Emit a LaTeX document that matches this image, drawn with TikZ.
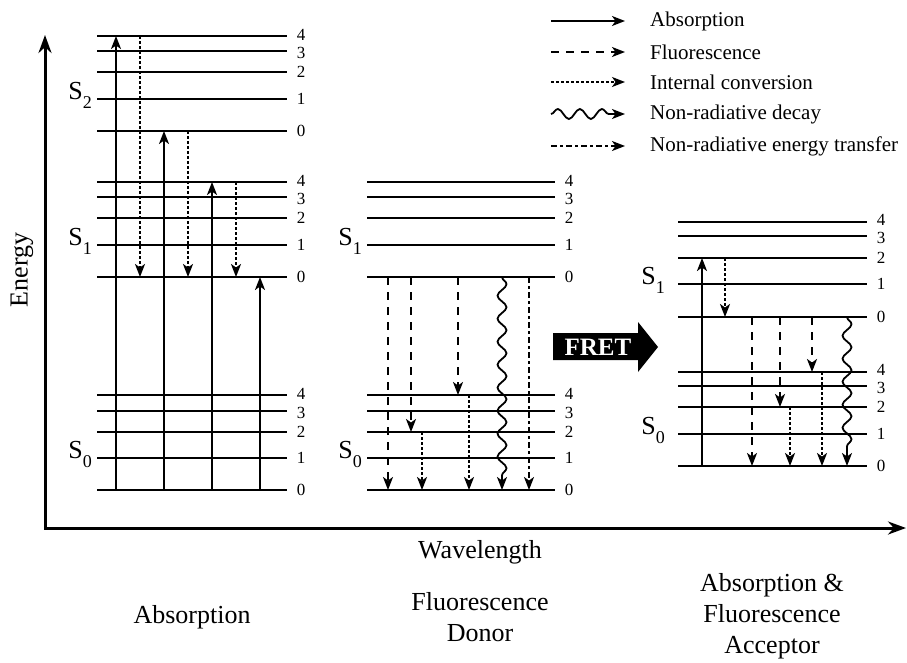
\documentclass[tikz,border=0pt]{standalone}
\usepackage{fontspec}
\setmainfont{Liberation Serif}
\usetikzlibrary{arrows.meta,decorations.pathmorphing}

\tikzset{
  lvl/.style={line width=1.8pt},
  tipst/.style={-{Stealth[length=13pt,width=10pt,inset=3.5pt]}},
  absarr/.style={line width=2pt, tipst},
  fluarr/.style={line width=2pt, tipst, dash pattern=on 8pt off 7pt},
  icarr/.style={line width=2pt, tipst, dash pattern=on 3pt off 2pt},
  nrtarr/.style={line width=1.8pt, tipst, dash pattern=on 6pt off 3pt on 3pt off 3pt},
  wavarr/.style={line width=1.8pt, tipst, decorate, decoration={snake, amplitude=4.5pt, segment length=23pt, post length=12pt}},
  num/.style={font=\fontsize{17}{17}\selectfont, inner sep=0pt},
  slab/.style={font=\fontsize{26}{26}\selectfont, anchor=base east, inner sep=0pt},
  big/.style={font=\fontsize{26}{31}\selectfont, align=center},
  leg/.style={font=\fontsize{21}{21}\selectfont, anchor=west, inner sep=0pt},
}

% name, x1, x2, y, label, label shift
\newcommand\mylevel[6]{%
  \coordinate (#1a) at (#2,#4);
  \coordinate (#1b) at (#3,#4);
  \draw[lvl] (#1a) -- (#1b);
  \node[num] (#1n) at (#3+14,#4+#6) {#5};
}
\newcommand\Ssub[1]{S\raisebox{-9pt}{\fontsize{18}{18}\selectfont #1}}

\begin{document}
\begin{tikzpicture}[x=1pt,y=-1pt]
\useasboundingbox (0,0) rectangle (907,662);

% axes
\coordinate (axtop) at (45,35);
\coordinate (axright) at (906,528);
\draw[line width=3pt, {Stealth[length=18pt,width=13pt]}-{Stealth[length=18pt,width=13pt]}] (axtop) |- (axright);
\node[big, rotate=90] (energy) at (22,270) {Energy};
\node[big] (wavelength) at (480,552) {Wavelength};

% ---------- left diagram (Absorption)
\foreach \n/\y/\d in {4/36/-1.5,3/51/1.5,2/72/0,1/99/0,0/131/0} {\mylevel{lS2-\n}{97}{287}{\y}{\n}{\d}}
\foreach \n/\y/\d in {4/182/-1.5,3/197/1.5,2/218/0,1/245/0,0/277/0} {\mylevel{lS1-\n}{97}{287}{\y}{\n}{\d}}
\foreach \n/\y/\d in {4/395/-1.5,3/411/1.5,2/432/0,1/458/0,0/490/0} {\mylevel{lS0-\n}{97}{287}{\y}{\n}{\d}}
\node[slab] (lS2) at (92,99) {\Ssub{2}};
\node[slab] (lS1) at (92,245) {\Ssub{1}};
\node[slab] (lS0) at (92,458) {\Ssub{0}};

\foreach \c/\x in {c1/116,c2/140,c3/164,c4/188,c5/212,c6/236,c7/260} {\coordinate (\c) at (\x,0);}
\draw[absarr] (c1 |- lS0-0a) -- (c1 |- lS2-4a);
\draw[absarr] (c3 |- lS0-0a) -- (c3 |- lS2-0a);
\draw[absarr] (c5 |- lS0-0a) -- (c5 |- lS1-4a);
\draw[absarr] (c7 |- lS0-0a) -- (c7 |- lS1-0a);
\draw[icarr] (c2 |- lS2-4a) -- (c2 |- lS1-0a);
\draw[icarr] (c4 |- lS2-0a) -- (c4 |- lS1-0a);
\draw[icarr] (c6 |- lS1-4a) -- (c6 |- lS1-0a);

% ---------- middle diagram (Donor)
\foreach \n/\y/\d in {4/182/-1.5,3/197/1.5,2/218/0,1/245/0,0/277/0} {\mylevel{mS1-\n}{367}{555}{\y}{\n}{\d}}
\foreach \n/\y/\d in {4/395/-1.5,3/411/1.5,2/432/0,1/458/0,0/490/0} {\mylevel{mS0-\n}{367}{555}{\y}{\n}{\d}}
\node[slab] (mS1) at (362,245) {\Ssub{1}};
\node[slab] (mS0) at (362,458) {\Ssub{0}};

\foreach \c/\x in {m1/388,m2/411,m3/422,m4/458,m5/469,m6/502,m7/529} {\coordinate (\c) at (\x,0);}
\draw[fluarr] (m1 |- mS1-0a) -- (m1 |- mS0-0a);
\draw[fluarr] (m2 |- mS1-0a) -- (m2 |- mS0-2a);
\draw[fluarr] (m4 |- mS1-0a) -- (m4 |- mS0-4a);
\draw[icarr] (m3 |- mS0-2a) -- (m3 |- mS0-0a);
\draw[icarr] (m5 |- mS0-4a) -- (m5 |- mS0-0a);
\draw[wavarr] (m6 |- mS1-0a) -- (m6 |- mS0-0a);
\draw[nrtarr] (m7 |- mS1-0a) -- (m7 |- mS0-0a);

% ---------- FRET arrow
\fill (553,333) -- (638,333) -- (638,322) -- (658,347) -- (638,372) -- (638,360) -- (553,360) -- cycle;
\node[font=\fontsize{25}{25}\selectfont\bfseries, text=white, inner sep=0pt] (fret) at (598,347) {FRET};

% ---------- right diagram (Acceptor)
\foreach \n/\y/\d in {4/222/-2,3/236/2,2/258/0,1/284/0,0/317/0} {\mylevel{rS1-\n}{678}{867}{\y}{\n}{\d}}
\foreach \n/\y/\d in {4/372/-2,3/386/2,2/407/0,1/434/0,0/466/0} {\mylevel{rS0-\n}{678}{867}{\y}{\n}{\d}}
\node[slab] (rS1) at (665,284) {\Ssub{1}};
\node[slab] (rS0) at (665,434) {\Ssub{0}};

\foreach \c/\x in {r1/702,r2/725,r3/752,r4/780,r5/790,r6/812,r7/822,r8/847} {\coordinate (\c) at (\x,0);}
\draw[absarr] (r1 |- rS0-0a) -- (r1 |- rS1-2a);
\draw[icarr] (r2 |- rS1-2a) -- (r2 |- rS1-0a);
\draw[fluarr] (r3 |- rS1-0a) -- (r3 |- rS0-0a);
\draw[fluarr] (r4 |- rS1-0a) -- (r4 |- rS0-2a);
\draw[fluarr] (r6 |- rS1-0a) -- (r6 |- rS0-4a);
\draw[icarr] (r5 |- rS0-2a) -- (r5 |- rS0-0a);
\draw[icarr] (r7 |- rS0-4a) -- (r7 |- rS0-0a);
\draw[wavarr] (r8 |- rS1-0a) -- (r8 |- rS0-0a);

% ---------- legend
\foreach \k/\y in {1/21,2/52,3/82,4/114,5/146} {
  \coordinate (lg\k a) at (551,\y);
  \coordinate (lg\k b) at (625,\y);
}
\draw[absarr, line width=1.6pt] (lg1a) -- (lg1b);
\draw[fluarr, line width=1.6pt] (lg2a) -- (lg2b);
\draw[icarr, line width=1.4pt] (lg3a) -- (lg3b);
\draw[line width=1.8pt, tipst, decorate, decoration={snake, amplitude=5pt, segment length=22pt, post length=14pt}] (lg4a) -- (lg4b);
\draw[nrtarr, line width=1.6pt] (lg5a) -- (lg5b);
\node[leg] (t1) at (650,21) {Absorption};
\node[leg] (t2) at (650,52) {Fluorescence};
\node[leg] (t3) at (650,82) {Internal conversion};
\node[leg] (t4) at (650,114) {Non-radiative decay};
\node[leg] (t5) at (650,146) {Non-radiative energy transfer};

% ---------- bottom captions
\node[big] (capA) at (192,617) {Absorption};
\node[big] (capD) at (480,617) {Fluorescence\\Donor};
\node[big] (capF) at (772,616) {Absorption \&\\Fluorescence\\Acceptor};
\end{tikzpicture}
\end{document}
